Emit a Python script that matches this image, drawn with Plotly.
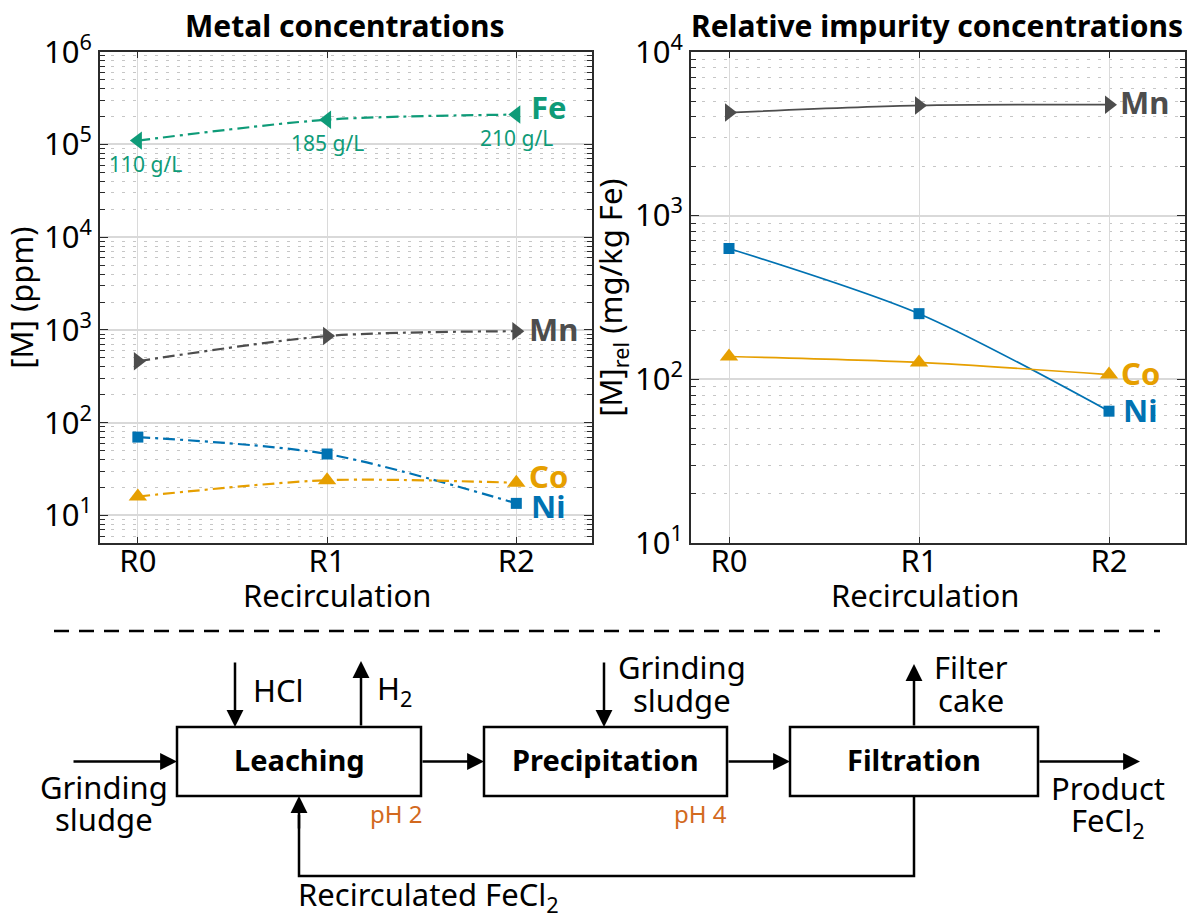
import plotly.graph_objects as go
import numpy as np

# ---- data -------------------------------------------------------------
stages = ["R0", "R1", "R2"]
stage_pos = [0, 1, 2]

# metal concentrations in the leachate (ppm)
fe_ppm = [110000, 185000, 210000]
mn_ppm = [460, 860, 970]
ni_ppm = [70, 46, 13.5]
co_ppm = [16, 24, 22.5]
fe_labels = ["110 g/L", "185 g/L", "210 g/L"]

# impurity concentrations relative to iron (mg/kg Fe)
mn_rel = [4250, 4700, 4750]
ni_rel = [630, 252, 64]
co_rel = [138, 127, 107]

left_ticks = [10, 100, 1000, 10000, 100000, 1000000]
right_ticks = [10, 100, 1000, 10000]

# ---- style ------------------------------------------------------------
FONT = "Noto Sans"
C_FE = "#0E9B78"
C_MN = "#4D4D4D"
C_NI = "#0072B2"
C_CO = "#E69F00"
C_PH = "#D2691E"
FRAME = "#2B2B2B"
W, H = 1193, 917
FS = 31
SCHEME_TOP = 600  # pixel row where the process scheme area starts


def sup_labels(vals):
    return [f"10<sup>{int(round(np.log10(v)))}</sup>" for v in vals]


def minor_vals(lo_exp, hi_exp):
    return [m * 10 ** e for e in range(lo_exp, hi_exp) for m in range(2, 10)]


fig = go.Figure()

dashdot = "12px,5px,3px,5px"

left_series = [
    ("Fe", fe_ppm, C_FE, "triangle-left", 16),
    ("Mn", mn_ppm, C_MN, "triangle-right", 16),
    ("Ni", ni_ppm, C_NI, "square", 11),
    ("Co", co_ppm, C_CO, "triangle-up", 16),
]
for name, vals, col, sym, size in left_series:
    fig.add_trace(go.Scatter(
        x=stage_pos, y=vals, mode="lines+markers", name=name,
        line=dict(color=col, width=2.2, dash=dashdot, shape="spline", smoothing=0.8),
        marker=dict(symbol=sym, size=size, color=col),
        xaxis="x", yaxis="y", showlegend=False, hoverinfo="skip"))

right_series = [
    ("Mn", mn_rel, C_MN, "triangle-right", 16),
    ("Ni", ni_rel, C_NI, "square", 11),
    ("Co", co_rel, C_CO, "triangle-up", 16),
]
for name, vals, col, sym, size in right_series:
    fig.add_trace(go.Scatter(
        x=stage_pos, y=vals, mode="lines+markers", name=name,
        line=dict(color=col, width=1.7, shape="spline", smoothing=0.8),
        marker=dict(symbol=sym, size=size, color=col),
        xaxis="x2", yaxis="y2", showlegend=False, hoverinfo="skip"))

# ---- axes -------------------------------------------------------------
top_px, bot_px = 51.7, 543.3
ydom = [1 - bot_px / H, 1 - top_px / H]

common_x = dict(
    tickvals=stage_pos, ticktext=stages, range=[-0.2, 2.4],
    showline=True, linecolor=FRAME, linewidth=2, mirror="allticks",
    ticks="inside", ticklen=6, tickcolor=FRAME, automargin=False,
    ticklabelstandoff=-11,
    showgrid=True, gridcolor="#DADADA", gridwidth=1, zeroline=False,
    tickfont=dict(family=FONT, size=FS, color="black"),
)


def log_axis(lo_exp, hi_exp, ticks, title, standoff):
    return dict(
        type="log", range=[lo_exp, hi_exp], automargin=False,
        tickvals=ticks, ticktext=sup_labels(ticks),
        showline=True, linecolor=FRAME, linewidth=2, mirror="allticks",
        ticks="inside", ticklen=8, tickcolor=FRAME,
        showgrid=True, gridcolor="#D9D9D9", gridwidth=2, zeroline=False,
        tickfont=dict(family=FONT, size=FS, color="black"),
        title=dict(text=title, font=dict(family=FONT, size=FS, color="black"), standoff=standoff),
        minor=dict(tickmode="array", tickvals=minor_vals(int(np.floor(lo_exp)), int(np.ceil(hi_exp))),
                   ticks="inside", ticklen=5, tickcolor=FRAME, showgrid=True,
                   gridcolor="#C6C6C6", gridwidth=1.2, griddash="3px,8px"),
    )


fig.update_layout(
    xaxis=dict(domain=[100 / W, 592 / W], anchor="y", **common_x),
    yaxis=dict(domain=ydom, anchor="x", **log_axis(0.7, 6.0, left_ticks, "[M] (ppm)", 6)),
    xaxis2=dict(domain=[691 / W, 1185 / W], anchor="y2", **common_x),
    yaxis2=dict(domain=ydom, anchor="x2",
                **log_axis(1.0, 4.0, right_ticks, "[M]<sub>rel</sub> (mg/kg Fe)", 0)),
    # pixel-space axes for the process scheme
    xaxis3=dict(domain=[0, 1], range=[0, W], visible=False, anchor="y3",
                fixedrange=True, automargin=False),
    yaxis3=dict(domain=[0, 1 - SCHEME_TOP / H], range=[H, SCHEME_TOP], visible=False, anchor="x3",
                fixedrange=True, automargin=False),
    width=W, height=H, margin=dict(l=0, r=0, t=0, b=0, autoexpand=False),
    paper_bgcolor="white", plot_bgcolor="white",
    font=dict(family=FONT, color="black"),
)

ann = []


def ptext(t, x, y, size=FS, color="black"):
    """Text placed in paper space, given in pixel position."""
    return dict(text=t, x=x / W, y=1 - y / H, xref="paper", yref="paper",
                xanchor="center", yanchor="middle", showarrow=False,
                font=dict(family=FONT, size=size, color=color))


# panel titles and x-axis titles
ann += [
    ptext("<b>Metal concentrations</b>", 345, 26, size=30),
    ptext("<b>Relative impurity concentrations</b>", 937, 26, size=30),
    ptext("Recirculation", 337, 595),
    ptext("Recirculation", 925, 595),
]


# series labels at the end of each line
def end_label(text, val, col, xr, yr, xshift, yshift):
    return dict(text=f"<b>{text}</b>", x=2, y=np.log10(val), xref=xr, yref=yr,
                xanchor="left", yanchor="middle", xshift=xshift, yshift=yshift,
                showarrow=False, font=dict(family=FONT, size=FS, color=col))

ann.append(end_label("Fe", fe_ppm[2], C_FE, "x", "y", 13, 8))
ann.append(end_label("Mn", mn_ppm[2], C_MN, "x", "y", 11, 2))
ann.append(end_label("Co", co_ppm[2], C_CO, "x", "y", 11, 7))
ann.append(end_label("Ni", ni_ppm[2], C_NI, "x", "y", 13, -3))
ann.append(end_label("Mn", mn_rel[2], C_MN, "x2", "y2", 9, 3))
ann.append(end_label("Co", co_rel[2], C_CO, "x2", "y2", 10, 2))
ann.append(end_label("Ni", ni_rel[2], C_NI, "x2", "y2", 12, 1))

# iron concentration labels below the Fe markers
for i, (v, lab) in enumerate(zip(fe_ppm, fe_labels)):
    ann.append(dict(text=lab, x=stage_pos[i], y=np.log10(v), xref="x", yref="y",
                    xshift=8 if i == 0 else 0, yshift=-23, showarrow=False,
                    font=dict(family=FONT, size=21, color=C_FE)))

# ---- process scheme (pixel coordinates on x3/y3) -----------------------
def text(t, x, y, anchor="center", size=FS, color="black"):
    return dict(text=t, x=x, y=y, xref="x3", yref="y3", xanchor=anchor, yanchor="middle",
                showarrow=False, font=dict(family=FONT, size=size, color=color))


shapes = []
shapes.append(dict(type="line", xref="x3", yref="y3", x0=54, x1=1160, y0=631, y1=631,
                   line=dict(color="black", width=2.5, dash="15px,10px")))

box_top, box_bot = 727, 796
boxes = [("Leaching", 177, 421), ("Precipitation", 484, 727), ("Filtration", 790, 1038)]
for label, x0, x1 in boxes:
    shapes.append(dict(type="rect", xref="x3", yref="y3", x0=x0, x1=x1, y0=box_top, y1=box_bot,
                       line=dict(color="black", width=2.5), fillcolor="white"))
    ann.append(text(f"<b>{label}</b>", (x0 + x1) / 2, (box_top + box_bot) / 2 - 2, size=29))

# recirculation loop
shapes.append(dict(type="path", xref="x3", yref="y3",
                   path="M 914 796 L 914 876 L 299 876 L 299 815",
                   line=dict(color="black", width=2.5)))


def arrow(x0, y0, x1, y1):
    return dict(x=x1, y=y1, ax=x0, ay=y0, xref="x3", yref="y3", axref="x3", ayref="y3",
                text="", showarrow=True, arrowhead=2, arrowsize=1.35, arrowwidth=2.5,
                arrowcolor="black", standoff=0, startstandoff=0)

mid = (box_top + box_bot) / 2
ann += [
    arrow(72, mid, 177, mid),
    arrow(421, mid, 484, mid),
    arrow(727, mid, 790, mid),
    arrow(1038, mid, 1140, mid),
    arrow(235, 661, 235, box_top),
    arrow(361, box_top, 361, 661),
    arrow(604, 661, 604, box_top),
    arrow(914, box_top, 914, 664),
    arrow(299, 830, 299, box_bot),
]

ann += [
    text("Grinding", 104, 787),
    text("sludge", 104, 819),
    text("HCl", 251, 690, "left"),
    text("H<sub>2</sub>", 375, 690, "left"),
    text("Grinding", 682, 667),
    text("sludge", 682, 700),
    text("Filter", 971, 667),
    text("cake", 971, 700),
    text("Product", 1108, 788),
    text("FeCl<sub>2</sub>", 1108, 822),
    text("Recirculated FeCl<sub>2</sub>", 428, 896),
    text("pH 2", 396, 813, size=24, color=C_PH),
    text("pH 4", 700, 813, size=24, color=C_PH),
]

fig.update_layout(annotations=ann, shapes=shapes)
fig.write_html("out.html")
